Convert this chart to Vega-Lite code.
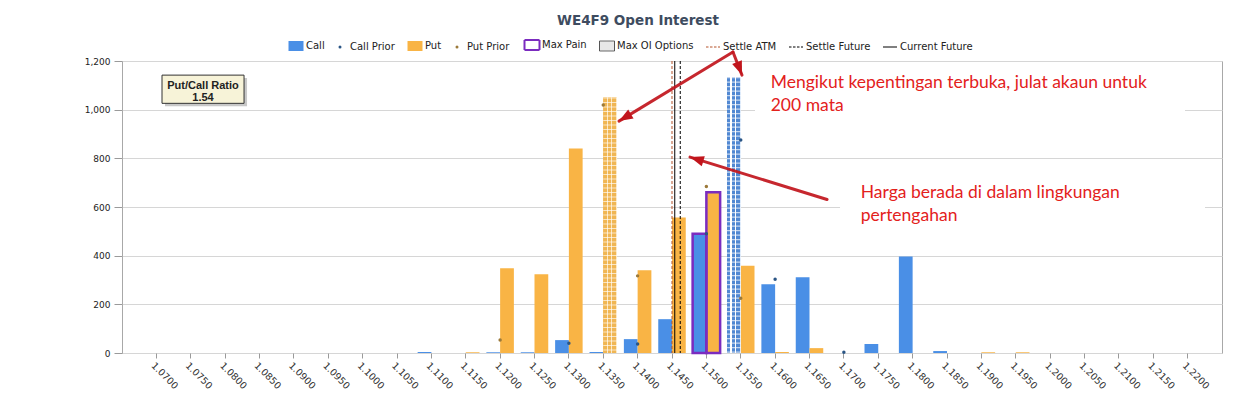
{
  "$schema": "https://vega.github.io/schema/vega-lite/v6.json",
  "width": 1100,
  "height": 292,
  "autosize": {"type": "none"},
  "padding": {"left": 122, "top": 61, "right": 37, "bottom": 46},
  "background": "#ffffff",
  "config": {
    "view": {"stroke": "#a8a8a8", "strokeWidth": 1},
    "font": "DejaVu Sans"
  },
  "title": {
    "text": "WE4F9 Open Interest",
    "frame": "group",
    "anchor": "middle",
    "dx": -34,
    "offset": 2,
    "baseline": "alphabetic",
    "font": "DejaVu Sans",
    "fontSize": 13.5,
    "fontWeight": "bold",
    "color": "#3e4c60"
  },
  "datasets": {
    "oi": [
      {"strike": "1.0700", "type": "Call", "oi": 0}, {"strike": "1.0700", "type": "Put", "oi": 0},
      {"strike": "1.0750", "type": "Call", "oi": 0}, {"strike": "1.0750", "type": "Put", "oi": 0},
      {"strike": "1.0800", "type": "Call", "oi": 0}, {"strike": "1.0800", "type": "Put", "oi": 0},
      {"strike": "1.0850", "type": "Call", "oi": 0}, {"strike": "1.0850", "type": "Put", "oi": 0},
      {"strike": "1.0900", "type": "Call", "oi": 0}, {"strike": "1.0900", "type": "Put", "oi": 0},
      {"strike": "1.0950", "type": "Call", "oi": 0}, {"strike": "1.0950", "type": "Put", "oi": 0},
      {"strike": "1.1000", "type": "Call", "oi": 0}, {"strike": "1.1000", "type": "Put", "oi": 0},
      {"strike": "1.1050", "type": "Call", "oi": 0}, {"strike": "1.1050", "type": "Put", "oi": 0},
      {"strike": "1.1100", "type": "Call", "oi": 4}, {"strike": "1.1100", "type": "Put", "oi": 0},
      {"strike": "1.1150", "type": "Call", "oi": 0}, {"strike": "1.1150", "type": "Put", "oi": 3},
      {"strike": "1.1200", "type": "Call", "oi": 3}, {"strike": "1.1200", "type": "Put", "oi": 348, "prior": 53},
      {"strike": "1.1250", "type": "Call", "oi": 3}, {"strike": "1.1250", "type": "Put", "oi": 324},
      {"strike": "1.1300", "type": "Call", "oi": 53, "prior": 40}, {"strike": "1.1300", "type": "Put", "oi": 840},
      {"strike": "1.1350", "type": "Call", "oi": 4}, {"strike": "1.1350", "type": "Put", "oi": 1050, "prior": 1019, "maxOI": true},
      {"strike": "1.1400", "type": "Call", "oi": 57, "prior": 37}, {"strike": "1.1400", "type": "Put", "oi": 340, "prior": 317},
      {"strike": "1.1450", "type": "Call", "oi": 139}, {"strike": "1.1450", "type": "Put", "oi": 557},
      {"strike": "1.1500", "type": "Call", "oi": 490, "prior": 490, "maxPain": true}, {"strike": "1.1500", "type": "Put", "oi": 661, "prior": 684, "maxPain": true},
      {"strike": "1.1550", "type": "Call", "oi": 1134, "prior": 875, "maxOI": true}, {"strike": "1.1550", "type": "Put", "oi": 359, "prior": 225},
      {"strike": "1.1600", "type": "Call", "oi": 283, "prior": 303}, {"strike": "1.1600", "type": "Put", "oi": 4},
      {"strike": "1.1650", "type": "Call", "oi": 311}, {"strike": "1.1650", "type": "Put", "oi": 20},
      {"strike": "1.1700", "type": "Call", "oi": 0, "prior": 3}, {"strike": "1.1700", "type": "Put", "oi": 0},
      {"strike": "1.1750", "type": "Call", "oi": 37}, {"strike": "1.1750", "type": "Put", "oi": 0},
      {"strike": "1.1800", "type": "Call", "oi": 397}, {"strike": "1.1800", "type": "Put", "oi": 0},
      {"strike": "1.1850", "type": "Call", "oi": 8}, {"strike": "1.1850", "type": "Put", "oi": 0},
      {"strike": "1.1900", "type": "Call", "oi": 0}, {"strike": "1.1900", "type": "Put", "oi": 3},
      {"strike": "1.1950", "type": "Call", "oi": 0}, {"strike": "1.1950", "type": "Put", "oi": 3},
      {"strike": "1.2000", "type": "Call", "oi": 0}, {"strike": "1.2000", "type": "Put", "oi": 0},
      {"strike": "1.2050", "type": "Call", "oi": 0}, {"strike": "1.2050", "type": "Put", "oi": 0},
      {"strike": "1.2100", "type": "Call", "oi": 0}, {"strike": "1.2100", "type": "Put", "oi": 0},
      {"strike": "1.2150", "type": "Call", "oi": 0}, {"strike": "1.2150", "type": "Put", "oi": 0},
      {"strike": "1.2200", "type": "Call", "oi": 0}, {"strike": "1.2200", "type": "Put", "oi": 0}
    ],
    "lines": [
      {"name": "Settle ATM", "x": 1.1450},
      {"name": "Current Future", "x": 1.1454},
      {"name": "Settle Future", "x": 1.1462}
    ],
    "boxes": [
      {"x": 1.15707, "x2": 1.21962, "y": 1192, "y2": 970},
      {"x": 1.16944, "x2": 1.22253, "y": 719, "y2": 505}
    ],
    "notes": [
      {"x": 1.15936, "y": 1088, "text": "Mengikut kepentingan terbuka, julat akaun untuk"},
      {"x": 1.15936, "y": 996, "text": "200 mata"},
      {"x": 1.17245, "y": 636, "text": "Harga berada di dalam lingkungan"},
      {"x": 1.17245, "y": 544, "text": "pertengahan"}
    ],
    "arrows": [
      {"id": "a1", "x": 1.15387, "y": 1237, "x2": 1.13729, "y2": 953},
      {"id": "a2", "x": 1.15387, "y": 1237, "x2": 1.15518, "y2": 1142},
      {"id": "a3", "x": 1.16755, "y": 631, "x2": 1.14762, "y2": 805}
    ],
    "pcr": [{"x": 1.07082, "x2": 1.08275, "y": 1142, "y2": 1026}],
    "pcrText": [
      {"x": 1.07678, "y": 1085, "text": "Put/Call Ratio"},
      {"x": 1.07678, "y": 1037, "text": "1.54"}
    ]
  },
  "resolve": {"scale": {"x": "independent"}, "axis": {"y": "independent"}},
  "layer": [
    {
      "data": {"name": "oi"},
      "encoding": {
        "x": {
          "field": "strike", "type": "ordinal", "title": null,
          "scale": {"paddingInner": 0.2, "paddingOuter": 0.6},
          "axis": {
            "labelAngle": 45, "labelAlign": "left", "labelBaseline": "top",
            "labelFontSize": 9.5, "labelColor": "#333333", "labelPadding": 2,
            "labelOverlap": false, "labelFlush": false,
            "tickColor": "#9a9a9a", "tickSize": 5, "domain": false, "grid": false
          }
        },
        "y": {
          "field": "oi", "type": "quantitative", "title": null,
          "scale": {"domain": [0, 1200], "nice": false},
          "axis": {
            "values": [0, 200, 400, 600, 800, 1000, 1200], "format": ",d",
            "grid": true, "gridColor": "#d6d6d6", "domain": false,
            "tickColor": "#9a9a9a", "tickSize": 8, "labelPadding": 4,
            "labelFontSize": 9, "labelColor": "#222222"
          }
        }
      },
      "layer": [
        {
          "mark": {"type": "bar"},
          "encoding": {
            "xOffset": {"field": "type", "type": "nominal", "scale": {"domain": ["Call", "Put"]}},
            "color": {
              "field": "type", "type": "nominal",
              "scale": {
                "domain": ["Call", "Call Prior", "Put", "Put Prior", "Max Pain", "Max OI Options", "Settle ATM", "Settle Future", "Current Future"],
                "range": ["#4a8fe6", "#2a5585", "#f9b445", "#9c7a3a", "#ffffff", "#e8e8e8", "#b5532b", "#000000", "#000000"]
              },
              "legend": {
                "orient": "none", "legendX": 169, "legendY": -21,
                "direction": "horizontal", "title": null,
                "labelFont": "DejaVu Sans", "labelFontSize": 10, "labelColor": "#222222",
                "symbolSize": 225, "columnPadding": 10, "labelOffset": 5,
                "encode": {
                  "symbols": {
                    "update": {
                      "shape": {"signal": "indexof(['Call Prior','Put Prior'], datum.value) >= 0 ? 'circle' : (indexof(['Settle ATM','Settle Future','Current Future'], datum.value) >= 0 ? 'M-1.4,0H1.4' : 'M-1.5,-1H1.5V1H-1.5Z')"},
                      "size": {"signal": "indexof(['Call Prior','Put Prior'], datum.value) >= 0 ? 9 : 100"},
                      "stroke": {"signal": "datum.value === 'Max Pain' ? '#7b2cbf' : datum.value === 'Max OI Options' ? '#555555' : datum.value === 'Settle ATM' ? '#b5532b' : (datum.value === 'Settle Future' || datum.value === 'Current Future') ? '#000000' : 'transparent'"},
                      "strokeWidth": {"signal": "datum.value === 'Max Pain' ? 2 : 1"},
                      "strokeDash": {"signal": "(datum.value === 'Settle ATM' || datum.value === 'Settle Future') ? [2.5, 1.5] : [1, 0]"},
                      "opacity": {"value": 1}
                    }
                  }
                }
              }
            }
          }
        },
        {
          "transform": [{"filter": "datum.maxOI && datum.type === 'Call'"}],
          "mark": {
            "type": "bar",
            "fill": {
              "gradient": "linear", "x1": 0, "y1": 0, "x2": 1, "y2": 0,
              "stops": [
                {"offset": 0, "color": "#5188d2"}, {"offset": 0.25, "color": "#5188d2"},
                {"offset": 0.25, "color": "#ffffff"}, {"offset": 0.333, "color": "#ffffff"},
                {"offset": 0.333, "color": "#5188d2"}, {"offset": 0.583, "color": "#5188d2"},
                {"offset": 0.583, "color": "#ffffff"}, {"offset": 0.667, "color": "#ffffff"},
                {"offset": 0.667, "color": "#5188d2"}, {"offset": 0.917, "color": "#5188d2"},
                {"offset": 0.917, "color": "#ffffff"}, {"offset": 1, "color": "#ffffff"}
              ]
            }
          },
          "encoding": {
            "xOffset": {"field": "type", "type": "nominal", "scale": {"domain": ["Call", "Put"]}}
          }
        },
        {
          "transform": [{"filter": "datum.maxOI && datum.type === 'Put'"}],
          "mark": {
            "type": "bar",
            "fill": {
              "gradient": "linear", "x1": 0, "y1": 0, "x2": 1, "y2": 0,
              "stops": [
                {"offset": 0, "color": "#f0b653"}, {"offset": 0.25, "color": "#f0b653"},
                {"offset": 0.25, "color": "#fce8c4"}, {"offset": 0.333, "color": "#fce8c4"},
                {"offset": 0.333, "color": "#f0b653"}, {"offset": 0.583, "color": "#f0b653"},
                {"offset": 0.583, "color": "#fce8c4"}, {"offset": 0.667, "color": "#fce8c4"},
                {"offset": 0.667, "color": "#f0b653"}, {"offset": 0.917, "color": "#f0b653"},
                {"offset": 0.917, "color": "#fce8c4"}, {"offset": 1, "color": "#fce8c4"}
              ]
            }
          },
          "encoding": {
            "xOffset": {"field": "type", "type": "nominal", "scale": {"domain": ["Call", "Put"]}}
          }
        },
        {
          "transform": [{"filter": "datum.maxOI"}],
          "mark": {"type": "rule", "stroke": "#ffffff", "strokeWidth": 13.75, "strokeDash": [1.1, 3.4], "opacity": 0.65},
          "encoding": {
            "xOffset": {"field": "type", "type": "nominal", "scale": {"domain": ["Call", "Put"]}},
            "y2": {"datum": 0}
          }
        },
        {
          "transform": [{"filter": "datum.maxPain"}],
          "mark": {"type": "bar", "fillOpacity": 0, "stroke": "#7b2cbf", "strokeWidth": 2.5},
          "encoding": {
            "xOffset": {"field": "type", "type": "nominal", "scale": {"domain": ["Call", "Put"]}}
          }
        },
        {
          "transform": [{"filter": "isValid(datum.prior) && datum.type === 'Call'"}],
          "mark": {"type": "circle", "size": 12, "color": "#2a5585", "opacity": 1},
          "encoding": {"y": {"field": "prior", "type": "quantitative", "title": null}}
        },
        {
          "transform": [{"filter": "isValid(datum.prior) && datum.type === 'Put'"}],
          "mark": {"type": "circle", "size": 12, "color": "#9c7a3a", "opacity": 1},
          "encoding": {"y": {"field": "prior", "type": "quantitative", "title": null}}
        }
      ]
    },
    {
      "layer": [
        {
          "data": {"name": "lines"},
          "transform": [{"filter": "datum.name === 'Settle ATM'"}],
          "mark": {"type": "rule", "stroke": "#b5532b", "strokeWidth": 1, "strokeDash": [3, 2]},
          "encoding": {"x": {"field": "x", "type": "quantitative", "scale": {"domain": [1.065, 1.225], "nice": false, "zero": false}, "axis": null}}
        },
        {
          "data": {"name": "lines"},
          "transform": [{"filter": "datum.name === 'Current Future'"}],
          "mark": {"type": "rule", "stroke": "#000000", "strokeWidth": 1},
          "encoding": {"x": {"field": "x", "type": "quantitative", "scale": {"domain": [1.065, 1.225], "nice": false, "zero": false}, "axis": null}}
        },
        {
          "data": {"name": "lines"},
          "transform": [{"filter": "datum.name === 'Settle Future'"}],
          "mark": {"type": "rule", "stroke": "#000000", "strokeWidth": 1, "strokeDash": [3, 2]},
          "encoding": {"x": {"field": "x", "type": "quantitative", "scale": {"domain": [1.065, 1.225], "nice": false, "zero": false}, "axis": null}}
        },
        {
          "data": {"name": "boxes"},
          "mark": {"type": "rect", "fill": "#ffffff"},
          "encoding": {
            "x": {"field": "x", "type": "quantitative", "scale": {"domain": [1.065, 1.225], "nice": false, "zero": false}, "axis": null},
            "x2": {"field": "x2"},
            "y": {"field": "y", "type": "quantitative", "title": null, "scale": {"domain": [0, 1200], "nice": false}, "axis": null},
            "y2": {"field": "y2"}
          }
        },
        {
          "data": {"name": "notes"},
          "mark": {"type": "text", "align": "left", "baseline": "alphabetic", "font": "Lato", "fontSize": 17.5, "color": "#e3211c"},
          "encoding": {
            "x": {"field": "x", "type": "quantitative", "scale": {"domain": [1.065, 1.225], "nice": false, "zero": false}, "axis": null},
            "y": {"field": "y", "type": "quantitative", "title": null, "scale": {"domain": [0, 1200], "nice": false}, "axis": null},
            "text": {"field": "text"}
          }
        },
        {
          "data": {"name": "arrows"},
          "mark": {"type": "rule", "stroke": "#c1151c", "strokeWidth": 3, "strokeCap": "round", "opacity": 0.92},
          "encoding": {
            "x": {"field": "x", "type": "quantitative", "scale": {"domain": [1.065, 1.225], "nice": false, "zero": false}, "axis": null},
            "x2": {"field": "x2"},
            "y": {"field": "y", "type": "quantitative", "title": null, "scale": {"domain": [0, 1200], "nice": false}, "axis": null},
            "y2": {"field": "y2"}
          }
        },
        {
          "data": {"name": "arrows"},
          "transform": [{"filter": "datum.id === 'a1'"}],
          "mark": {"type": "point", "shape": "M0,0L-0.6,1.6L0.6,1.6Z", "filled": true, "size": 300, "angle": 239, "color": "#c1151c", "opacity": 1},
          "encoding": {
            "x": {"field": "x2", "type": "quantitative", "scale": {"domain": [1.065, 1.225], "nice": false, "zero": false}, "axis": null},
            "y": {"field": "y2", "type": "quantitative", "title": null, "scale": {"domain": [0, 1200], "nice": false}, "axis": null}
          }
        },
        {
          "data": {"name": "arrows"},
          "transform": [{"filter": "datum.id === 'a2'"}],
          "mark": {"type": "point", "shape": "M0,0L-0.6,1.6L0.6,1.6Z", "filled": true, "size": 300, "angle": 159, "color": "#c1151c", "opacity": 1},
          "encoding": {
            "x": {"field": "x2", "type": "quantitative", "scale": {"domain": [1.065, 1.225], "nice": false, "zero": false}, "axis": null},
            "y": {"field": "y2", "type": "quantitative", "title": null, "scale": {"domain": [0, 1200], "nice": false}, "axis": null}
          }
        },
        {
          "data": {"name": "arrows"},
          "transform": [{"filter": "datum.id === 'a3'"}],
          "mark": {"type": "point", "shape": "M0,0L-0.6,1.6L0.6,1.6Z", "filled": true, "size": 300, "angle": 287, "color": "#c1151c", "opacity": 1},
          "encoding": {
            "x": {"field": "x2", "type": "quantitative", "scale": {"domain": [1.065, 1.225], "nice": false, "zero": false}, "axis": null},
            "y": {"field": "y2", "type": "quantitative", "title": null, "scale": {"domain": [0, 1200], "nice": false}, "axis": null}
          }
        },
        {
          "data": {"name": "pcr"},
          "mark": {"type": "rect", "fill": "#9a9a9a", "opacity": 0.55, "xOffset": 3, "x2Offset": 3, "yOffset": 3, "y2Offset": 3},
          "encoding": {
            "x": {"field": "x", "type": "quantitative", "scale": {"domain": [1.065, 1.225], "nice": false, "zero": false}, "axis": null},
            "x2": {"field": "x2"},
            "y": {"field": "y", "type": "quantitative", "title": null, "scale": {"domain": [0, 1200], "nice": false}, "axis": null},
            "y2": {"field": "y2"}
          }
        },
        {
          "data": {"name": "pcr"},
          "mark": {"type": "rect", "fill": "#f7f3d8", "stroke": "#333333", "strokeWidth": 1},
          "encoding": {
            "x": {"field": "x", "type": "quantitative", "scale": {"domain": [1.065, 1.225], "nice": false, "zero": false}, "axis": null},
            "x2": {"field": "x2"},
            "y": {"field": "y", "type": "quantitative", "title": null, "scale": {"domain": [0, 1200], "nice": false}, "axis": null},
            "y2": {"field": "y2"}
          }
        },
        {
          "data": {"name": "pcrText"},
          "mark": {"type": "text", "align": "center", "baseline": "alphabetic", "font": "Liberation Sans", "fontSize": 11, "fontWeight": "bold", "color": "#222222"},
          "encoding": {
            "x": {"field": "x", "type": "quantitative", "scale": {"domain": [1.065, 1.225], "nice": false, "zero": false}, "axis": null},
            "y": {"field": "y", "type": "quantitative", "title": null, "scale": {"domain": [0, 1200], "nice": false}, "axis": null},
            "text": {"field": "text"}
          }
        }
      ]
    }
  ]
}
